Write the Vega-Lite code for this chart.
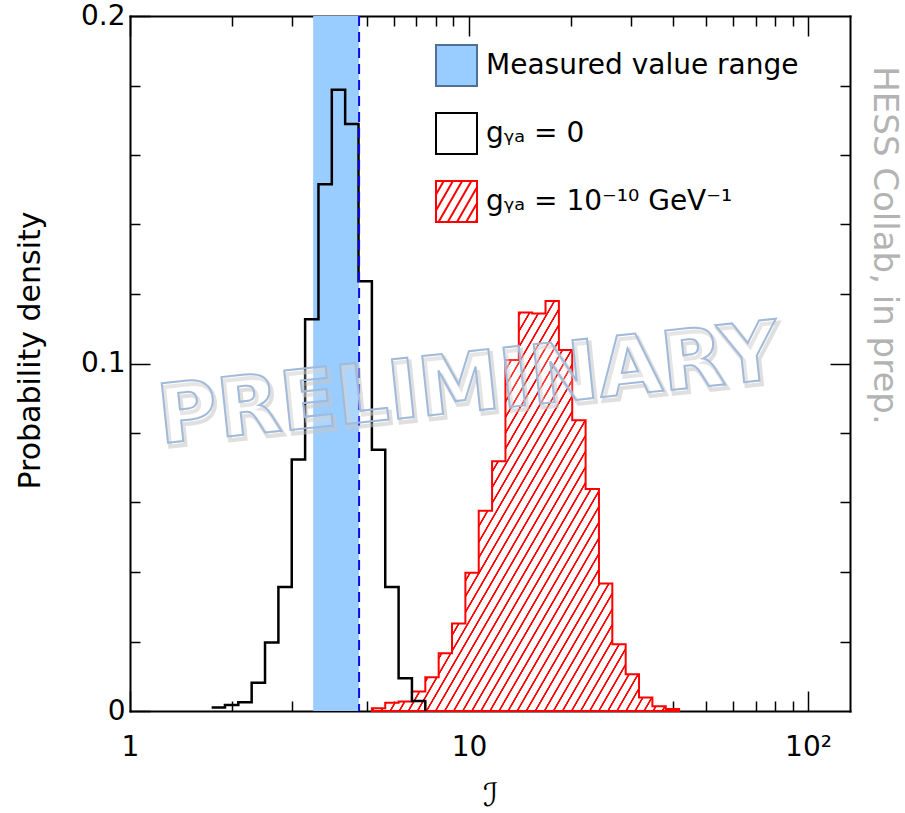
{
 "$schema": "https://vega.github.io/schema/vega-lite/v6.json",
 "width": 720, "height": 695,
 "autosize": {"type": "none"},
 "padding": {"left": 130, "top": 16, "right": 55, "bottom": 102},
 "background": "white",
 "config": {
  "view": {"stroke": null},
  "axis": {"grid": false, "domain": false, "tickColor": "black", "tickWidth": 1.5, "labelFont": "DejaVu Sans", "labelFontSize": 28, "labelColor": "black", "titleFont": "DejaVu Sans", "titleFontWeight": "normal", "titleColor": "black", "labelFlush": false, "labelOverlap": false, "zindex": 1, "domainColor": "black", "domainWidth": 2, "domainCap": "square"}
 },
 "resolve": {"axis": {"x": "independent", "y": "independent"}},
 "layer": [
  {
   "data": {"values": [{"lo": 3.47, "hi": 4.74}]},
   "mark": {"type": "rect", "color": "#99ccff"},
   "encoding": {
    "x": {"field": "lo", "type": "quantitative", "scale": {"type": "log", "domain": [1, 133], "nice": false},
     "axis": {"orient": "bottom", "values": [1, 10, 100], "tickSize": -20, "labelPadding": 42, "labelExpr": "datum.value >= 100 ? '10²' : format(datum.value, 'd')", "domain": true, "title": "ℐ", "titleFontSize": 32, "titleX": 360, "titleY": 84, "titleAlign": "center", "titleBaseline": "middle", "titleAngle": 0}},
    "x2": {"field": "hi"}
   }
  },
  {
   "data": {"values": [
    {"lo": 5.17, "p": 0.0008}, {"lo": 5.661, "p": 0.0024}, {"lo": 6.199, "p": 0.0027}, {"lo": 6.787, "p": 0.0056},
    {"lo": 7.432, "p": 0.0097}, {"lo": 8.138, "p": 0.0166}, {"lo": 8.91, "p": 0.0252}, {"lo": 9.757, "p": 0.0398},
    {"lo": 10.683, "p": 0.0576}, {"lo": 11.697, "p": 0.0719}, {"lo": 12.809, "p": 0.101}, {"lo": 14.026, "p": 0.1147},
    {"lo": 15.357, "p": 0.1144}, {"lo": 16.815, "p": 0.118}, {"lo": 18.413, "p": 0.1039}, {"lo": 20.161, "p": 0.0837},
    {"lo": 22.077, "p": 0.0639}, {"lo": 24.173, "p": 0.0367}, {"lo": 26.469, "p": 0.0192}, {"lo": 28.983, "p": 0.0106},
    {"lo": 31.733, "p": 0.0039}, {"lo": 34.748, "p": 0.0014}, {"lo": 38.047, "p": 0.0006}, {"lo": 41.662, "p": 0}
   ]},
   "mark": {"type": "area", "interpolate": "step-after", "stroke": "#ff0000", "strokeWidth": 2, "fillOpacity": 1,
    "fill": {"gradient": "linear", "x1": 0, "y1": 0, "x2": 1.1107, "y2": 0.8563, "stops": [
{"offset":0,"color":"#fff"},{"offset":0.0012,"color":"#f00"},{"offset":0.0036,"color":"#f00"},{"offset":0.0048,"color":"#fff"},
{"offset":0.0167,"color":"#fff"},{"offset":0.0179,"color":"#f00"},{"offset":0.0203,"color":"#f00"},{"offset":0.0215,"color":"#fff"},
{"offset":0.0333,"color":"#fff"},{"offset":0.0345,"color":"#f00"},{"offset":0.0369,"color":"#f00"},{"offset":0.0381,"color":"#fff"},
{"offset":0.05,"color":"#fff"},{"offset":0.0512,"color":"#f00"},{"offset":0.0536,"color":"#f00"},{"offset":0.0548,"color":"#fff"},
{"offset":0.0667,"color":"#fff"},{"offset":0.0679,"color":"#f00"},{"offset":0.0703,"color":"#f00"},{"offset":0.0715,"color":"#fff"},
{"offset":0.0833,"color":"#fff"},{"offset":0.0845,"color":"#f00"},{"offset":0.0869,"color":"#f00"},{"offset":0.0881,"color":"#fff"},
{"offset":0.1,"color":"#fff"},{"offset":0.1012,"color":"#f00"},{"offset":0.1036,"color":"#f00"},{"offset":0.1048,"color":"#fff"},
{"offset":0.1167,"color":"#fff"},{"offset":0.1179,"color":"#f00"},{"offset":0.1203,"color":"#f00"},{"offset":0.1215,"color":"#fff"},
{"offset":0.1333,"color":"#fff"},{"offset":0.1345,"color":"#f00"},{"offset":0.1369,"color":"#f00"},{"offset":0.1381,"color":"#fff"},
{"offset":0.15,"color":"#fff"},{"offset":0.1512,"color":"#f00"},{"offset":0.1536,"color":"#f00"},{"offset":0.1548,"color":"#fff"},
{"offset":0.1667,"color":"#fff"},{"offset":0.1679,"color":"#f00"},{"offset":0.1703,"color":"#f00"},{"offset":0.1715,"color":"#fff"},
{"offset":0.1833,"color":"#fff"},{"offset":0.1845,"color":"#f00"},{"offset":0.1869,"color":"#f00"},{"offset":0.1881,"color":"#fff"},
{"offset":0.2,"color":"#fff"},{"offset":0.2012,"color":"#f00"},{"offset":0.2036,"color":"#f00"},{"offset":0.2048,"color":"#fff"},
{"offset":0.2167,"color":"#fff"},{"offset":0.2179,"color":"#f00"},{"offset":0.2203,"color":"#f00"},{"offset":0.2215,"color":"#fff"},
{"offset":0.2333,"color":"#fff"},{"offset":0.2345,"color":"#f00"},{"offset":0.2369,"color":"#f00"},{"offset":0.2381,"color":"#fff"},
{"offset":0.25,"color":"#fff"},{"offset":0.2512,"color":"#f00"},{"offset":0.2536,"color":"#f00"},{"offset":0.2548,"color":"#fff"},
{"offset":0.2667,"color":"#fff"},{"offset":0.2679,"color":"#f00"},{"offset":0.2703,"color":"#f00"},{"offset":0.2715,"color":"#fff"},
{"offset":0.2833,"color":"#fff"},{"offset":0.2845,"color":"#f00"},{"offset":0.2869,"color":"#f00"},{"offset":0.2881,"color":"#fff"},
{"offset":0.3,"color":"#fff"},{"offset":0.3012,"color":"#f00"},{"offset":0.3036,"color":"#f00"},{"offset":0.3048,"color":"#fff"},
{"offset":0.3167,"color":"#fff"},{"offset":0.3179,"color":"#f00"},{"offset":0.3203,"color":"#f00"},{"offset":0.3215,"color":"#fff"},
{"offset":0.3333,"color":"#fff"},{"offset":0.3345,"color":"#f00"},{"offset":0.3369,"color":"#f00"},{"offset":0.3381,"color":"#fff"},
{"offset":0.35,"color":"#fff"},{"offset":0.3512,"color":"#f00"},{"offset":0.3536,"color":"#f00"},{"offset":0.3548,"color":"#fff"},
{"offset":0.3667,"color":"#fff"},{"offset":0.3679,"color":"#f00"},{"offset":0.3703,"color":"#f00"},{"offset":0.3715,"color":"#fff"},
{"offset":0.3833,"color":"#fff"},{"offset":0.3845,"color":"#f00"},{"offset":0.3869,"color":"#f00"},{"offset":0.3881,"color":"#fff"},
{"offset":0.4,"color":"#fff"},{"offset":0.4012,"color":"#f00"},{"offset":0.4036,"color":"#f00"},{"offset":0.4048,"color":"#fff"},
{"offset":0.4167,"color":"#fff"},{"offset":0.4179,"color":"#f00"},{"offset":0.4203,"color":"#f00"},{"offset":0.4215,"color":"#fff"},
{"offset":0.4333,"color":"#fff"},{"offset":0.4345,"color":"#f00"},{"offset":0.4369,"color":"#f00"},{"offset":0.4381,"color":"#fff"},
{"offset":0.45,"color":"#fff"},{"offset":0.4512,"color":"#f00"},{"offset":0.4536,"color":"#f00"},{"offset":0.4548,"color":"#fff"},
{"offset":0.4667,"color":"#fff"},{"offset":0.4679,"color":"#f00"},{"offset":0.4703,"color":"#f00"},{"offset":0.4715,"color":"#fff"},
{"offset":0.4833,"color":"#fff"},{"offset":0.4845,"color":"#f00"},{"offset":0.4869,"color":"#f00"},{"offset":0.4881,"color":"#fff"},
{"offset":0.5,"color":"#fff"},{"offset":0.5012,"color":"#f00"},{"offset":0.5036,"color":"#f00"},{"offset":0.5048,"color":"#fff"},
{"offset":0.5167,"color":"#fff"},{"offset":0.5179,"color":"#f00"},{"offset":0.5203,"color":"#f00"},{"offset":0.5215,"color":"#fff"},
{"offset":0.5333,"color":"#fff"},{"offset":0.5345,"color":"#f00"},{"offset":0.5369,"color":"#f00"},{"offset":0.5381,"color":"#fff"},
{"offset":0.55,"color":"#fff"},{"offset":0.5512,"color":"#f00"},{"offset":0.5536,"color":"#f00"},{"offset":0.5548,"color":"#fff"},
{"offset":0.5667,"color":"#fff"},{"offset":0.5679,"color":"#f00"},{"offset":0.5703,"color":"#f00"},{"offset":0.5715,"color":"#fff"},
{"offset":0.5833,"color":"#fff"},{"offset":0.5845,"color":"#f00"},{"offset":0.5869,"color":"#f00"},{"offset":0.5881,"color":"#fff"},
{"offset":0.6,"color":"#fff"},{"offset":0.6012,"color":"#f00"},{"offset":0.6036,"color":"#f00"},{"offset":0.6048,"color":"#fff"},
{"offset":0.6167,"color":"#fff"},{"offset":0.6179,"color":"#f00"},{"offset":0.6203,"color":"#f00"},{"offset":0.6215,"color":"#fff"},
{"offset":0.6333,"color":"#fff"},{"offset":0.6345,"color":"#f00"},{"offset":0.6369,"color":"#f00"},{"offset":0.6381,"color":"#fff"},
{"offset":0.65,"color":"#fff"},{"offset":0.6512,"color":"#f00"},{"offset":0.6536,"color":"#f00"},{"offset":0.6548,"color":"#fff"},
{"offset":0.6667,"color":"#fff"},{"offset":0.6679,"color":"#f00"},{"offset":0.6703,"color":"#f00"},{"offset":0.6715,"color":"#fff"},
{"offset":0.6833,"color":"#fff"},{"offset":0.6845,"color":"#f00"},{"offset":0.6869,"color":"#f00"},{"offset":0.6881,"color":"#fff"},
{"offset":0.7,"color":"#fff"},{"offset":0.7012,"color":"#f00"},{"offset":0.7036,"color":"#f00"},{"offset":0.7048,"color":"#fff"},
{"offset":0.7167,"color":"#fff"},{"offset":0.7179,"color":"#f00"},{"offset":0.7203,"color":"#f00"},{"offset":0.7215,"color":"#fff"},
{"offset":0.7333,"color":"#fff"},{"offset":0.7345,"color":"#f00"},{"offset":0.7369,"color":"#f00"},{"offset":0.7381,"color":"#fff"},
{"offset":0.75,"color":"#fff"},{"offset":0.7512,"color":"#f00"},{"offset":0.7536,"color":"#f00"},{"offset":0.7548,"color":"#fff"},
{"offset":0.7667,"color":"#fff"},{"offset":0.7679,"color":"#f00"},{"offset":0.7703,"color":"#f00"},{"offset":0.7715,"color":"#fff"},
{"offset":0.7833,"color":"#fff"},{"offset":0.7845,"color":"#f00"},{"offset":0.7869,"color":"#f00"},{"offset":0.7881,"color":"#fff"},
{"offset":0.8,"color":"#fff"},{"offset":0.8012,"color":"#f00"},{"offset":0.8036,"color":"#f00"},{"offset":0.8048,"color":"#fff"},
{"offset":0.8167,"color":"#fff"},{"offset":0.8179,"color":"#f00"},{"offset":0.8203,"color":"#f00"},{"offset":0.8215,"color":"#fff"},
{"offset":0.8333,"color":"#fff"},{"offset":0.8345,"color":"#f00"},{"offset":0.8369,"color":"#f00"},{"offset":0.8381,"color":"#fff"},
{"offset":0.85,"color":"#fff"},{"offset":0.8512,"color":"#f00"},{"offset":0.8536,"color":"#f00"},{"offset":0.8548,"color":"#fff"},
{"offset":0.8667,"color":"#fff"},{"offset":0.8679,"color":"#f00"},{"offset":0.8703,"color":"#f00"},{"offset":0.8715,"color":"#fff"},
{"offset":0.8833,"color":"#fff"},{"offset":0.8845,"color":"#f00"},{"offset":0.8869,"color":"#f00"},{"offset":0.8881,"color":"#fff"},
{"offset":0.9,"color":"#fff"},{"offset":0.9012,"color":"#f00"},{"offset":0.9036,"color":"#f00"},{"offset":0.9048,"color":"#fff"},
{"offset":0.9167,"color":"#fff"},{"offset":0.9179,"color":"#f00"},{"offset":0.9203,"color":"#f00"},{"offset":0.9215,"color":"#fff"},
{"offset":0.9333,"color":"#fff"},{"offset":0.9345,"color":"#f00"},{"offset":0.9369,"color":"#f00"},{"offset":0.9381,"color":"#fff"},
{"offset":0.95,"color":"#fff"},{"offset":0.9512,"color":"#f00"},{"offset":0.9536,"color":"#f00"},{"offset":0.9548,"color":"#fff"},
{"offset":0.9667,"color":"#fff"},{"offset":0.9679,"color":"#f00"},{"offset":0.9703,"color":"#f00"},{"offset":0.9715,"color":"#fff"},
{"offset":0.9833,"color":"#fff"},{"offset":0.9845,"color":"#f00"},{"offset":0.9869,"color":"#f00"},{"offset":0.9881,"color":"#fff"},
{"offset":1,"color":"#fff"}
    ]}},
   "encoding": {
    "x": {"field": "lo", "type": "quantitative", "scale": {"type": "log", "domain": [1, 133], "nice": false},
     "axis": {"orient": "bottom", "values": [2, 3, 4, 5, 6, 7, 8, 9, 20, 30, 40, 50, 60, 70, 80, 90], "tickSize": -10, "labels": false, "title": null}},
    "y": {"field": "p", "type": "quantitative", "scale": {"domain": [0, 0.2], "nice": false},
     "axis": {"orient": "left", "values": [0, 0.1, 0.2], "tickSize": -20, "labelPadding": 25, "labelExpr": "datum.value == 0 ? '0' : format(datum.value, '.1f')", "domain": true, "title": "Probability density", "titleFontSize": 30, "titleAngle": 270, "titleX": -100, "titleY": 334, "titleAlign": "center", "titleBaseline": "middle"}}
   }
  },
  {
   "data": {"values": [
    {"lo": 1.741, "p": 0.001}, {"lo": 1.906, "p": 0.0017}, {"lo": 2.087, "p": 0.0025}, {"lo": 2.285, "p": 0.0081},
    {"lo": 2.502, "p": 0.0197}, {"lo": 2.74, "p": 0.0357}, {"lo": 3.0, "p": 0.0724}, {"lo": 3.285, "p": 0.1127},
    {"lo": 3.597, "p": 0.1516}, {"lo": 3.938, "p": 0.1788}, {"lo": 4.312, "p": 0.1689}, {"lo": 4.722, "p": 0.1237},
    {"lo": 5.17, "p": 0.0752}, {"lo": 5.661, "p": 0.0357}, {"lo": 6.199, "p": 0.0094}, {"lo": 6.787, "p": 0.0029},
    {"lo": 7.432, "p": 0}
   ]},
   "mark": {"type": "line", "interpolate": "step-after", "color": "black", "strokeWidth": 2.5},
   "encoding": {
    "x": {"field": "lo", "type": "quantitative", "scale": {"type": "log", "domain": [1, 133], "nice": false},
     "axis": {"orient": "top", "values": [1, 10, 100], "tickSize": -20, "labels": false, "domain": true, "title": null}},
    "y": {"field": "p", "type": "quantitative", "scale": {"domain": [0, 0.2], "nice": false},
     "axis": {"orient": "left", "values": [0.02, 0.04, 0.06, 0.08, 0.12, 0.14, 0.16, 0.18], "tickSize": -10, "labels": false, "title": null}}
   }
  },
  {
   "data": {"values": [{"lo": 3.47, "hi": 4.74}]},
   "mark": {"type": "rule", "color": "#0a0aee", "strokeWidth": 2, "strokeDash": [10, 6]},
   "encoding": {
    "x": {"field": "hi", "type": "quantitative", "scale": {"type": "log", "domain": [1, 133], "nice": false},
     "axis": {"orient": "top", "values": [2, 3, 4, 5, 6, 7, 8, 9, 20, 30, 40, 50, 60, 70, 80, 90], "tickSize": -10, "labels": false, "title": null}}
   }
  },
  {
   "data": {"values": [{}]},
   "mark": {"type": "text", "text": "PRELIMINARY", "font": "DejaVu Sans", "fontWeight": "bold", "fontSize": 82, "angle": 354, "align": "center", "baseline": "middle", "fill": "#ffffff", "fillOpacity": 0, "stroke": "#c4c4c4", "strokeOpacity": 0.55, "strokeWidth": 4, "dx": 2, "dy": 4},
   "encoding": {
    "x": {"datum": 9.95, "type": "quantitative", "scale": {"type": "log", "domain": [1, 133], "nice": false}, "axis": null},
    "y": {"datum": 0.0935, "type": "quantitative", "scale": {"domain": [0, 0.2], "nice": false},
     "axis": {"orient": "right", "values": [0.1], "tickSize": -20, "labels": false, "domain": true, "title": "HESS Collab, in prep.", "titleColor": "#b3b3b3", "titleFontSize": 34, "titleAngle": 90, "titleX": 33, "titleY": 229, "titleAlign": "center", "titleBaseline": "middle"}}
   }
  },
  {
   "data": {"values": [{}]},
   "mark": {"type": "text", "text": "PRELIMINARY", "font": "DejaVu Sans", "fontWeight": "bold", "fontSize": 82, "angle": 354, "align": "center", "baseline": "middle", "fill": "#ffffff", "fillOpacity": 0.2, "stroke": "#a2bada", "strokeWidth": 2},
   "encoding": {
    "x": {"datum": 9.95, "type": "quantitative", "scale": {"type": "log", "domain": [1, 133], "nice": false}, "axis": null},
    "y": {"datum": 0.0935, "type": "quantitative", "scale": {"domain": [0, 0.2], "nice": false},
     "axis": {"orient": "right", "values": [0.02, 0.04, 0.06, 0.08, 0.12, 0.14, 0.16, 0.18], "tickSize": -10, "labels": false, "title": null}}
   }
  },
  {
   "data": {"values": [{"entry": "Measured value range"}, {"entry": "g\u1d67\u2090 = 0"}, {"entry": "g\u1d67\u2090 =  10\u207b\u00b9\u2070 GeV\u207b\u00b9"}]},
   "mark": {"type": "point", "filled": true, "opacity": 0},
   "encoding": {
    "fill": {"field": "entry", "type": "nominal",
     "scale": {"domain": ["Measured value range", "g\u1d67\u2090 = 0", "g\u1d67\u2090 =  10\u207b\u00b9\u2070 GeV\u207b\u00b9"], "range": ["#99ccff", "#ffffff", "#ffffff"]},
     "legend": {"title": null, "orient": "none", "legendX": 305, "legendY": 28, "direction": "vertical", "symbolSize": 1681, "symbolStrokeWidth": 2, "labelFont": "DejaVu Sans", "labelFontSize": 28, "labelColor": "black", "labelOffset": 8, "labelLimit": 600, "rowPadding": 19, "padding": 0, "symbolOpacity": 1,
      "encode": {"symbols": {"update": {"opacity": {"value": 1}, "fillOpacity": {"value": 1}, "strokeOpacity": {"value": 1}}}}}},
    "stroke": {"field": "entry", "type": "nominal",
     "scale": {"domain": ["Measured value range", "g\u1d67\u2090 = 0", "g\u1d67\u2090 =  10\u207b\u00b9\u2070 GeV\u207b\u00b9"], "range": ["#50709a", "#000000", "#ff0000"]},
     "legend": {"title": null, "orient": "none", "legendX": 305, "legendY": 28, "direction": "vertical", "symbolSize": 1681, "symbolStrokeWidth": 2, "labelFont": "DejaVu Sans", "labelFontSize": 28, "labelColor": "black", "labelOffset": 8, "labelLimit": 600, "rowPadding": 19, "padding": 0, "symbolOpacity": 1,
      "encode": {"symbols": {"update": {"opacity": {"value": 1}, "fillOpacity": {"value": 1}, "strokeOpacity": {"value": 1}}}}}},
    "shape": {"field": "entry", "type": "nominal",
     "scale": {"domain": ["Measured value range", "g\u1d67\u2090 = 0", "g\u1d67\u2090 =  10\u207b\u00b9\u2070 GeV\u207b\u00b9"], "range": ["square", "square", "M-1,-1H1V1H-1Z M-1,-0.347L-0.623,-1 M-1,0.433L-0.173,-1 M-0.877,1L0.277,-1 M-0.427,1L0.727,-1 M0.023,1L1,-0.693 M0.473,1L1,0.087 M0.923,1L1,0.867"]},
     "legend": {"title": null, "orient": "none", "legendX": 305, "legendY": 28, "direction": "vertical", "symbolSize": 1681, "symbolStrokeWidth": 2, "labelFont": "DejaVu Sans", "labelFontSize": 28, "labelColor": "black", "labelOffset": 8, "labelLimit": 600, "rowPadding": 19, "padding": 0, "symbolOpacity": 1,
      "encode": {"symbols": {"update": {"opacity": {"value": 1}, "fillOpacity": {"value": 1}, "strokeOpacity": {"value": 1}}}}}}
   }
  }
 ]
}
